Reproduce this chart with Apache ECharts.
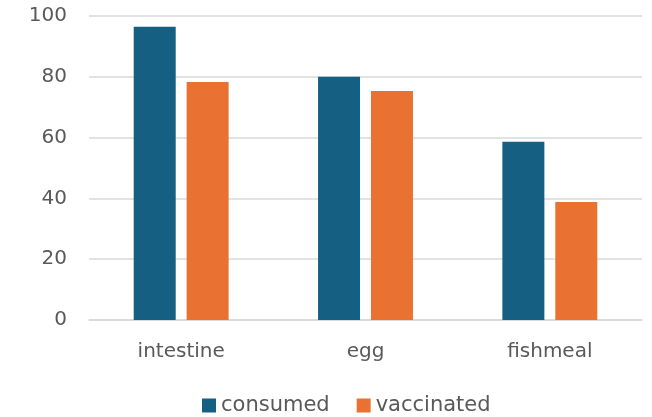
<!DOCTYPE html>
<html>
<head>
<meta charset="utf-8">
<script src="https://cdn.jsdelivr.net/npm/echarts@6/dist/echarts.min.js"></script>
<style>
  html, body { margin: 0; padding: 0; background: #fff; }
  #chart { width: 652px; height: 417px; }
</style>
</head>
<body>
<div id="chart"></div>
<script>
// Categories and series values
const categories = ['intestine', 'egg', 'fishmeal'];
const consumed = [96.5, 80, 58.6];
const vaccinated = [78.3, 75.3, 38.8];
const yTicks = [0, 20, 40, 60, 80, 100];

const FONT = '"DejaVu Sans", sans-serif';
const TEXT = '#595959';

const chart = echarts.init(document.getElementById('chart'), null, { renderer: 'canvas' });
chart.setOption({
  animation: false,
  grid: { left: 89, right: 10, top: 16, bottom: 97, containLabel: false },
  legend: {
    bottom: -4,
    left: 197,
    itemWidth: 14,
    itemHeight: 14,
    itemGap: 27,
    icon: 'rect',
    textStyle: { color: TEXT, fontSize: 21, fontFamily: FONT },
    data: ['consumed', 'vaccinated']
  },
  xAxis: {
    type: 'category',
    data: categories,
    axisLine: { show: true, lineStyle: { color: '#d9d9d9', width: 1.5 } },
    axisTick: { show: false },
    axisLabel: { color: TEXT, fontSize: 20, fontFamily: FONT, margin: 22 }
  },
  yAxis: {
    type: 'value',
    min: yTicks[0],
    max: yTicks[yTicks.length - 1],
    interval: 20,
    axisLine: { show: false },
    axisTick: { show: false },
    splitLine: { lineStyle: { color: '#d9d9d9', width: 1.5 } },
    axisLabel: { color: TEXT, fontSize: 20, fontFamily: FONT, margin: 22 }
  },
  series: [
    {
      name: 'consumed',
      type: 'bar',
      data: consumed,
      barWidth: 42,
      barGap: '26%',
      itemStyle: { color: '#156082' }
    },
    {
      name: 'vaccinated',
      type: 'bar',
      data: vaccinated,
      barWidth: 42,
      itemStyle: { color: '#E97132' }
    }
  ]
});
</script>
</body>
</html>
